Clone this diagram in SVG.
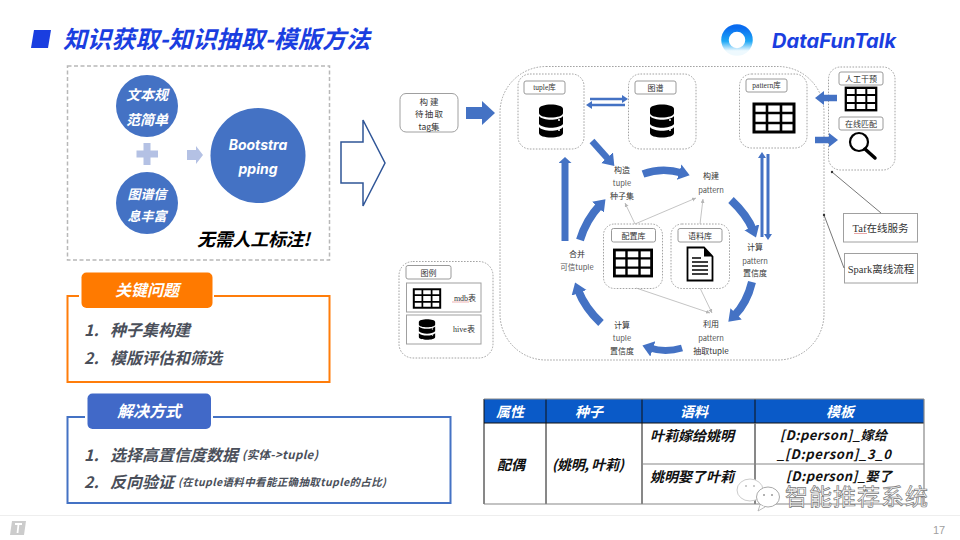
<svg xmlns="http://www.w3.org/2000/svg" width="960" height="540" viewBox="0 0 960 540">
<style>
text{font-family:"Noto Sans CJK SC","Noto Sans",sans-serif}
.bi{font-weight:700;font-style:italic}
.c{text-anchor:middle}
.w{fill:#fff}
.dash{fill:#fff;stroke:#8c8c8c;stroke-width:.8;stroke-dasharray:1.600 1.400}
.lab{fill:#fff;stroke:#9a9a9a;stroke-width:1}
.box{fill:#fff;stroke:#a0a0a0;stroke-width:1}
.t{font-size:8px;fill:#333;text-anchor:middle}
.tl{font-size:7.500px;fill:#555;text-anchor:middle}
.s{font-family:"Liberation Serif","Noto Sans CJK SC",serif;fill:#333;text-anchor:middle}
.f{fill:none;stroke:#4472c4}
.g{fill:none;stroke:#b5b5b5;stroke-width:.8;marker-end:url(#ga)}
.k{fill:none;stroke:#555;stroke-width:.8}
.item{font-size:16px;fill:#4a4f5a}
.sm{fill:#4a4f5a}
.th{font-size:14px;fill:#fff;text-anchor:middle}
.td{font-size:14px;fill:#111}
.tm{font-size:13px;fill:#111}
.grid{stroke:#111;stroke-width:1;fill:none}
.gridg{stroke:#888;stroke-width:1.200;fill:none}
</style>
<defs>
<marker id="a" markerUnits="userSpaceOnUse" markerWidth="18" markerHeight="18" refX="3" refY="8" orient="auto"><path d="M0 0L11 8L0 16Z" fill="#4472c4"/></marker>
<marker id="a2" markerUnits="userSpaceOnUse" markerWidth="10" markerHeight="10" refX="2" refY="4" orient="auto"><path d="M0 0L6 4L0 8Z" fill="#4472c4"/></marker>
<marker id="a4" markerUnits="userSpaceOnUse" markerWidth="14" markerHeight="14" refX="1" refY="6.500" orient="auto"><path d="M0 0L6 6.500L0 13Z" fill="#4472c4"/></marker>
<marker id="ga" markerUnits="userSpaceOnUse" markerWidth="6" markerHeight="6" refX="4" refY="2" orient="auto"><path d="M0 0L4 2L0 4Z" fill="#b5b5b5"/></marker>
<g id="db">
<path d="M-12 -12C-12 -18 12 -18 12 -12V-8C12 -2 -12 -2 -12 -8Z" fill="#000"/>
<path d="M-12 -5C-8 0 8 0 12 -5V3C8 8 -8 8 -12 3Z" fill="#000"/>
<path d="M-12 6C-8 11 8 11 12 6V12C12 18 -12 18 -12 12Z" fill="#000"/>
<circle cx="8" cy="-1" r="1" fill="#fff"/><circle cx="8" cy="9" r="1" fill="#fff"/>
</g>
<g id="tb">
<rect x="-20" y="-14" width="40" height="28" fill="#fff" stroke="#000" stroke-width="3"/>
<path d="M-20 -5H20M-20 5H20M-7 -14V14M7 -14V14" stroke="#000" stroke-width="2.600" fill="none"/>
</g>
<linearGradient id="lg" x1="0" y1="0" x2="0" y2="1"><stop offset="0" stop-color="#0a6cf0"/><stop offset=".55" stop-color="#1fa8f5"/><stop offset=".95" stop-color="#eef9fe"/></linearGradient>
</defs>
<rect width="960" height="540" fill="#fff"/>

<g id="title">
<path d="M34 30H51L48 48H31Z" fill="#1a3ee0"/>
<text x="63" y="48" class="bi" font-size="24" fill="#1a3ee0" textLength="307">知识获取-知识抽取-模版方法</text>
</g>
<g id="logo">
<circle cx="737" cy="40" r="12" fill="none" stroke="url(#lg)" stroke-width="7.500"/>
<text x="772" y="48" class="bi" font-size="20" fill="#1a3ee0" textLength="124" style="font-family:'Inter','Noto Sans',sans-serif">DataFunTalk</text>
</g>

<g id="bootstrap-panel">
<rect x="67.500" y="66" width="262" height="194" fill="#fff" stroke="#b8b8b8" stroke-width="1.500" stroke-dasharray="4 2.500"/>
</g>
<g id="n-text"><circle cx="147" cy="106" r="31" fill="#4472c4"/>
<text x="147" y="100" class="bi w c" font-size="14">文本规</text><text x="147" y="125" class="bi w c" font-size="14">范简单</text></g>
<g id="n-graph"><circle cx="147" cy="203" r="31" fill="#4472c4"/>
<text x="147" y="199" class="bi w c" font-size="13">图谱信</text><text x="147" y="221" class="bi w c" font-size="13">息丰富</text></g>
<g id="n-boot"><circle cx="258" cy="155.500" r="47.500" fill="#4472c4"/>
<text x="258" y="150" class="bi w c" font-size="14" style="font-family:'Inter',sans-serif">Bootstra</text><text x="258" y="174" class="bi w c" font-size="14" style="font-family:'Inter',sans-serif">pping</text></g>
<g id="plus"><path d="M143.500 143h7v7.500h7.500v7h-7.500v7.500h-7v-7.500h-7v-7h7z" fill="#b4c1e4"/></g>
<g id="plus-arrow"><path d="M187 150h9v-4l7 9l-7 9v-4h-9z" fill="#b4c1e4"/></g>
<g id="note"><text x="197" y="246" class="bi" font-size="18" fill="#000" textLength="113">无需人工标注!</text></g>
<g id="big-arrow"><path d="M341 142H363V120L385 163L363 206V183H341Z" fill="#fff" stroke="#2f5597" stroke-width="1.500"/></g>

<g id="key-issues">
<rect x="67.500" y="296" width="262" height="86" fill="#fff" stroke="#ff7d0a" stroke-width="2"/>
<rect x="79" y="270" width="135" height="40" fill="#fff"/>
<rect x="81.500" y="272.500" width="131" height="35.500" rx="5" fill="#ff7a00"/>
<text x="147" y="296" class="bi w c" font-size="16">关键问题</text>
<text x="84" y="336" class="bi item">1.</text><text x="110" y="336" class="bi item">种子集构建</text>
<text x="84" y="364" class="bi item">2.</text><text x="110" y="364" class="bi item">模版评估和筛选</text>
</g>
<g id="solutions">
<rect x="67.500" y="417" width="383" height="86" fill="#fff" stroke="#4472c4" stroke-width="2"/>
<rect x="85" y="391" width="128" height="40" fill="#fff"/>
<rect x="87.500" y="393.500" width="123.500" height="35.500" rx="5" fill="#4169c8"/>
<text x="149" y="417" class="bi w c" font-size="16">解决方式</text>
<text x="84" y="461" class="bi item">1.</text><text x="110" y="461" class="bi item">选择高置信度数据</text>
<text x="242" y="459" class="bi sm" font-size="11.500" textLength="76">(实体-&gt;tuple)</text>
<text x="84" y="488" class="bi item">2.</text><text x="110" y="488" class="bi item">反向验证</text>
<text x="178" y="486" class="bi sm" font-size="10.500" textLength="208">(在tuple语料中看能正确抽取tuple的占比)</text>
</g>

<g id="outer-panel"><rect x="500" y="66.500" width="324" height="293.500" rx="46" class="dash"/></g>

<g id="n-tag"><rect x="400" y="93.500" width="58" height="38.500" rx="6" class="box" stroke-width="1.500"/>
<text x="429" y="104.500" class="t" style="font-size:8.500px" textLength="19">构建</text><text x="429" y="117" class="t" style="font-size:8.500px" textLength="28">待抽取</text><text x="429" y="129.500" class="t" style="font-size:8.500px">tag集</text></g>

<g id="n-tuple"><rect x="518" y="74" width="66" height="75" rx="12" class="dash"/>
<rect x="524" y="81" width="41" height="13" rx="2" class="lab"/><text x="544.500" y="90" class="s" font-size="7.500">tuple库</text>
<use href="#db" x="551" y="121"/></g>
<g id="n-kg"><rect x="628.500" y="74" width="67.500" height="75" rx="12" class="dash"/>
<rect x="635" y="81" width="41" height="13" rx="2" class="lab"/><text x="655.500" y="90.500" class="t">图谱</text>
<use href="#db" x="662" y="121"/></g>
<g id="n-pattern"><rect x="739.500" y="74" width="67.500" height="74" rx="12" class="dash"/>
<rect x="746" y="79" width="41" height="13" rx="2" class="lab"/><text x="766.500" y="88" class="s" font-size="7.500">pattern库</text>
<use href="#tb" x="774" y="118"/></g>
<g id="n-online"><rect x="828.500" y="67" width="66.500" height="103" rx="12" class="dash"/>
<rect x="839" y="72" width="44" height="13" rx="2" class="lab"/><text x="861" y="81.500" class="t">人工干预</text>
<use href="#tb" transform="translate(861 99) scale(.76 .8)"/>
<rect x="839" y="117" width="44" height="13" rx="2" class="lab"/><text x="861" y="126.500" class="t">在线匹配</text>
<circle cx="859" cy="142" r="9" fill="#fff" stroke="#000" stroke-width="2.200"/><path d="M865 149L875 158" stroke="#000" stroke-width="3.500" stroke-linecap="round"/></g>
<g id="n-taf"><rect x="843.500" y="213.500" width="74" height="28.500" class="box"/>
<text x="880.500" y="232" class="s" font-size="10.500">Taf在线服务</text><path d="M854 233.500H867" stroke="#e08080" stroke-width=".7"/></g>
<g id="n-spark"><rect x="844.500" y="253.500" width="73" height="29.500" class="box"/>
<text x="881" y="272.500" class="s" font-size="10.500">Spark离线流程</text></g>

<g id="n-config"><rect x="603.500" y="224" width="59" height="64.500" rx="11" class="dash"/>
<rect x="611.500" y="228.500" width="44" height="13.500" rx="2" class="lab"/><text x="633.500" y="238.500" class="t">配置库</text>
<use href="#tb" transform="translate(633 263) scale(.93 .93)"/></g>
<g id="n-corpus"><rect x="671" y="224" width="58.500" height="64.500" rx="11" class="dash"/>
<rect x="678" y="228.500" width="44" height="13.500" rx="2" class="lab"/><text x="700" y="238.500" class="t">语料库</text>
<path d="M687.500 247.500H704L712.500 256.500V280.500H687.500Z" fill="#fff" stroke="#000" stroke-width="1.800"/><path d="M704 247.500V256.500H712.500Z" fill="#000"/>
<path d="M692 258H701M692 262H708M692 266H708M692 270H708M692 274H708" stroke="#000" stroke-width="1.300"/></g>

<g id="n-legend"><rect x="399" y="261.500" width="94" height="96.500" rx="14" class="dash"/>
<rect x="406" y="265.500" width="45" height="13.500" rx="2" class="lab"/><text x="428.500" y="275.500" class="t">图例</text>
<rect x="406.500" y="283" width="74.500" height="29" class="box"/><use href="#tb" transform="translate(427 298.500) scale(.66 .66)"/><text x="465" y="301" class="s" font-size="8">mdb表</text><path d="M452 302H469" stroke="#e08080" stroke-width=".6"/>
<rect x="406.500" y="315" width="74.500" height="29" class="box"/><use href="#db" transform="translate(427 329.500) scale(.68 .62)"/><text x="464" y="332" class="s" font-size="8">hive表</text></g>

<g id="t-seed"><text x="622" y="173" class="t">构造</text><text x="622" y="186" class="tl">tuple</text><text x="622" y="198.500" class="t">种子集</text></g>
<g id="t-build"><text x="711" y="179" class="t">构建</text><text x="711" y="193" class="tl">pattern</text></g>
<g id="t-calcp"><text x="755" y="250" class="t">计算</text><text x="755" y="263.500" class="tl">pattern</text><text x="755" y="276" class="t">置信度</text></g>
<g id="t-use"><text x="711" y="327" class="t">利用</text><text x="711" y="341" class="tl">pattern</text><text x="711" y="354" class="t">抽取tuple</text></g>
<g id="t-calct"><text x="622" y="328" class="t">计算</text><text x="622" y="341" class="tl">tuple</text><text x="622" y="354" class="t">置信度</text></g>
<g id="t-merge"><text x="577" y="257" class="t">合并</text><text x="577" y="270" class="tl">可信tuple</text></g>

<g id="connectors">
<path d="M466 113H483" class="f" stroke-width="12"/>
<path d="M482 101L495 113L482 125Z" fill="#4472c4"/>
<path d="M592 141L609 160" class="f" stroke-width="6.500" marker-end="url(#a)"/>
<path d="M590 99H624" class="f" stroke-width="2.500" marker-end="url(#a2)"/>
<path d="M625 105H590" class="f" stroke-width="2.500" marker-end="url(#a2)"/>
<path d="M565 241V162" class="f" stroke-width="7" marker-end="url(#a4)"/>
<path d="M580 240Q586 220 600 205" class="f" stroke-width="8" marker-end="url(#a)"/>
<path d="M601 323Q585 308 578 290" class="f" stroke-width="8" marker-end="url(#a)"/>
<path d="M643 174Q662 167 682 173" class="f" stroke-width="7.500" marker-end="url(#a)"/>
<path d="M731 200Q747 215 753 230" class="f" stroke-width="8" marker-end="url(#a)"/>
<path d="M752 282Q747 303 734 316" class="f" stroke-width="8" marker-end="url(#a)"/>
<path d="M682 348Q665 353 650 348" class="f" stroke-width="7" marker-end="url(#a)"/>
<path d="M762 237V156" class="f" stroke-width="3" marker-end="url(#a2)"/>
<path d="M768 154V236" class="f" stroke-width="3" marker-end="url(#a2)"/>
<path d="M837 98H823" class="f" stroke-width="6.500"/><path d="M824 91L815 98L824 105Z" fill="#4472c4"/>
<path d="M815 140H830" class="f" stroke-width="6.500"/><path d="M829 133L838 140L829 147Z" fill="#4472c4"/>
<path d="M635 224L625 203" class="g"/>
<path d="M635 224L696 198" class="g"/>
<path d="M700 224L703 199" class="g"/>
<path d="M636 288L710 313" class="g"/>
<path d="M700 288L712 313" class="g"/>
<path d="M881 213L832 172" class="k"/><circle cx="832" cy="172" r="1.200" fill="#333"/>
<path d="M844 268L824 215" class="k"/><circle cx="824" cy="215" r="1.200" fill="#333"/>
</g>

<g id="table">
<rect x="484" y="399" width="440" height="24" fill="#0a5ac8"/>
<path d="M484 423H924M546 399V504M642 399V504M755 399V504M484 399V504" class="grid"/>
<path d="M484 399H924M924 399V504M642 464H924M484 504H924M755 423V504" class="gridg"/>
<text x="510" y="417" class="bi th">属性</text><text x="589" y="417" class="bi th">种子</text><text x="694" y="417" class="bi th">语料</text><text x="840" y="417" class="bi th">模板</text>
<text x="497" y="470" class="bi td">配偶</text><text x="552" y="470" class="bi td" textLength="72">(姚明, 叶莉)</text>
<text x="650" y="441" class="bi td">叶莉嫁给姚明</text><text x="650" y="482" class="bi td">姚明娶了叶莉</text>
<text x="780" y="440" class="bi tm" textLength="107">[D:person]_嫁给</text><text x="777" y="459" class="bi tm" textLength="114">_[D:person]_3_0</text>
<text x="786" y="481" class="bi tm" textLength="106">[D:person]_娶了</text>
</g>

<g id="footer">
<path d="M0 515.500H960" stroke="#eee" stroke-width="1"/>
<path d="M12 521H26L24 535H10Z" fill="#ccc"/><path d="M15 524H22M18.500 524L17.500 533" stroke="#fff" stroke-width="1.800"/>
<text x="933" y="534" font-size="11" fill="#a0a0a0" style="font-family:'Liberation Sans',sans-serif">17</text>
</g>
<g id="watermark">
<ellipse cx="750" cy="490" rx="13" ry="11" fill="#fff" stroke="#ccc" stroke-width="1"/>
<ellipse cx="768" cy="497" rx="11.500" ry="10" fill="#fff" stroke="#aaa" stroke-width="1"/>
<path d="M760 505L758 511L765 507" fill="#fff" stroke="#aaa" stroke-width=".8"/>
<circle cx="764" cy="495" r="1" fill="#999"/><circle cx="772" cy="495" r="1" fill="#999"/><circle cx="746" cy="486" r="1" fill="#bbb"/><circle cx="754" cy="486" r="1" fill="#bbb"/>
<text x="785" y="505" font-size="23" fill="#fff" stroke="#777" stroke-width=".7" textLength="143">智能推荐系统</text>
</g>
</svg>
